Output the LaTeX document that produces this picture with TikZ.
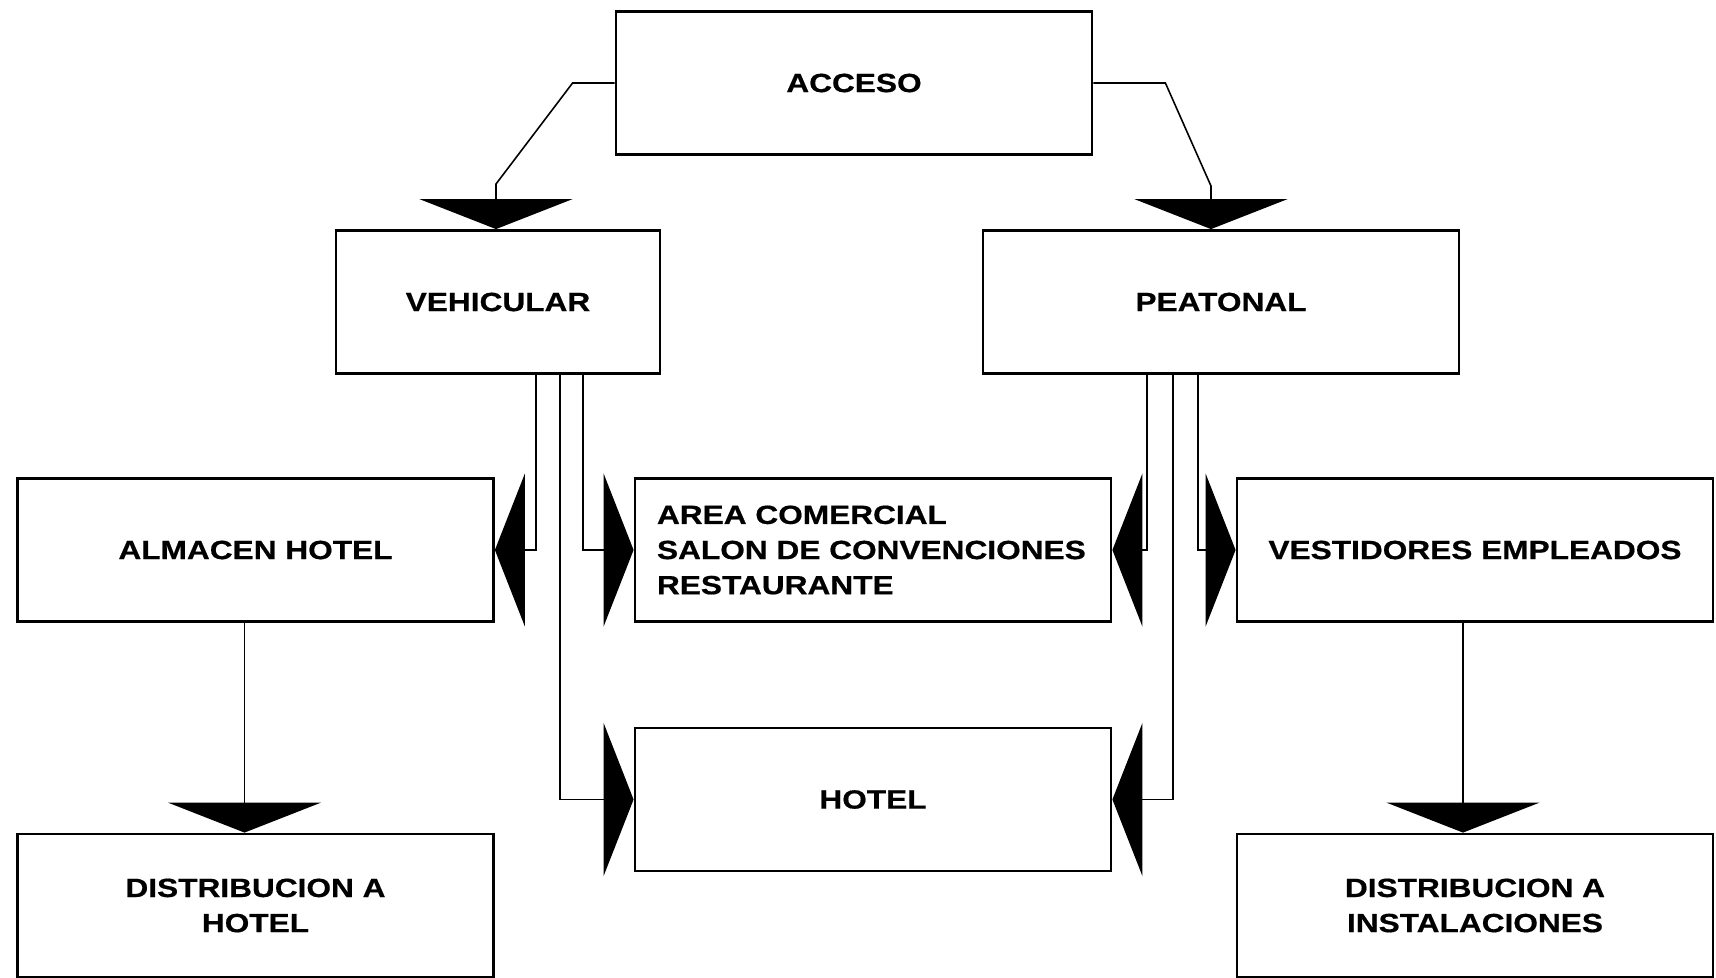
\documentclass[tikz,border=0pt]{standalone}
\usepackage{fontspec}
\newfontfamily\rotulo[UprightFont=* Bold, FakeStretch=1.2, FakeBold=0.6]{Liberation Sans}
\usetikzlibrary{arrows.meta}

\begin{document}
\begin{tikzpicture}[x=1cm, y=-1cm]
% Stili per le cajas e le frecce
\tikzset{caja/.style={draw, line width=0.8pt, minimum width=4.76cm, minimum height=1.43cm,
    inner sep=0pt, align=center, font=\rotulo\fontsize{7.5}{10}\selectfont}}
\tikzset{flecha/.style={line width=0.45pt, -{Triangle[width=1.53cm, length=0.3cm]}}}

\useasboundingbox (0,0) rectangle (17.16,9.78);

% --- CAJAS ---
\node[caja] (acceso) at (8.54,0.83) {ACCESO};
\node[caja, minimum width=3.24cm] (vehicular) at (4.98,3.02) {VEHICULAR};
\node[caja] (peatonal) at (12.21,3.02) {PEATONAL};
\node[caja] (almacen) at (2.555,5.50) {ALMACEN HOTEL};
\node[caja, align=left, text width=4.32cm, inner xsep=0.22cm] (comercial) at (8.73,5.50)
    {AREA COMERCIAL\\SALON DE CONVENCIONES\\RESTAURANTE};
\node[caja] (vestidores) at (14.75,5.50) {VESTIDORES EMPLEADOS};
\node[caja] (hotel) at (8.73,7.995) {HOTEL};
\node[caja] (disthotel) at (2.555,9.055) {DISTRIBUCION A\\HOTEL};
\node[caja] (distinst) at (14.75,9.055) {DISTRIBUCION A\\INSTALACIONES};

% --- DESDE ACCESO ---
\coordinate (codoV) at (4.96,1.84);
\coordinate (codoP) at (12.11,1.86);
\draw[flecha] (acceso.west) -- ++(-0.42,0) -- (codoV) -- (codoV |- vehicular.north);
\draw[flecha] (acceso.east) -- ++(0.72,0) -- (codoP) -- (codoP |- peatonal.north);

% --- DESDE VEHICULAR ---
\coordinate (v1) at ([xshift=3.8mm]vehicular.south);
\coordinate (v2) at ([xshift=6.2mm]vehicular.south);
\coordinate (v3) at ([xshift=8.5mm]vehicular.south);
\draw[flecha] (v1) -- (v1 |- almacen.east) -- (almacen.east);
\draw[flecha] (v2) -- (v2 |- hotel.west) -- (hotel.west);
\draw[flecha] (v3) -- (v3 |- comercial.west) -- (comercial.west);

% --- DESDE PEATONAL ---
\coordinate (p1) at ([xshift=-7.4mm]peatonal.south);
\coordinate (p2) at ([xshift=-4.8mm]peatonal.south);
\coordinate (p3) at ([xshift=-2.3mm]peatonal.south);
\draw[flecha] (p1) -- (p1 |- comercial.east) -- (comercial.east);
\draw[flecha] (p2) -- (p2 |- hotel.east) -- (hotel.east);
\draw[flecha] (p3) -- (p3 |- vestidores.west) -- (vestidores.west);

% --- DISTRIBUCION ---
\coordinate (a1) at ([xshift=-1.1mm]almacen.south);
\coordinate (e1) at ([xshift=-1.2mm]vestidores.south);
\draw[flecha] (a1) -- (a1 |- disthotel.north);
\draw[flecha] (e1) -- (e1 |- distinst.north);

\end{tikzpicture}
\end{document}
